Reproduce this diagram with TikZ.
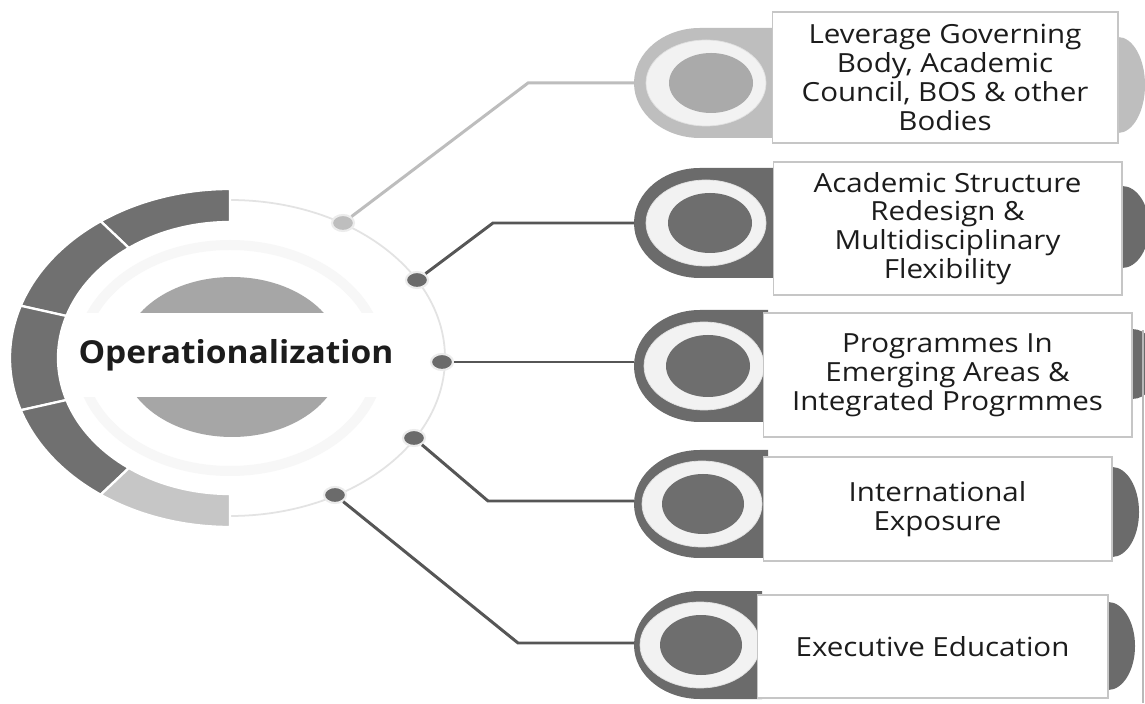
\documentclass[tikz,border=0pt]{standalone}
\usepackage{fontspec}
\setmainfont{Open Sans}
\newfontfamily\itemfont{Open Sans}[FakeStretch=1.12]
\newfontfamily\hubfont{Open Sans}[FakeStretch=1.06]
\usetikzlibrary{shapes.geometric}
\definecolor{segdark}{HTML}{707070}
\definecolor{segpale}{HTML}{C6C6C6}
\definecolor{hubdisk}{HTML}{A6A6A6}
\definecolor{cappale}{HTML}{BEBEBE}
\definecolor{diskpale}{HTML}{AAAAAA}
\definecolor{capdark}{HTML}{6B6B6B}
\definecolor{diskdark}{HTML}{6E6E6E}
\definecolor{ringwhite}{HTML}{F2F2F2}
\definecolor{linkpale}{HTML}{BDBDBD}
\definecolor{linkdark}{HTML}{565656}
\definecolor{ink}{HTML}{1C1C1C}
\begin{document}
\begin{tikzpicture}[x=0.02cm,y=0.02cm,
		segment/.style={draw=white,line width=1.3pt},
		dotpale/.style={ellipse,fill=cappale,draw=gray!15,line width=1.2pt,minimum width=0.44cm,minimum height=0.32cm,inner sep=0pt},
		dotdark/.style={ellipse,fill=capdark,draw=gray!15,line width=1.2pt,minimum width=0.44cm,minimum height=0.32cm,inner sep=0pt},
		pale/.style={draw=linkpale,line width=1.7pt},
		dark/.style={draw=linkdark,line width=1.7pt},
		itembox/.style={rectangle,fill=white,draw=gray!45,line width=0.6pt,align=center,inner sep=0pt,text=ink,font=\itemfont\fontsize{15}{16.4}\selectfont}]
	\useasboundingbox (0,0) rectangle (1145,703);
	\fill[white] (0,0) rectangle (1145,703);
	% hub
	\draw[gray!6,line width=0.2cm] (230,345) ellipse[x radius=150,y radius=113];
	\draw[gray!22,line width=1pt] (230,503) arc[start angle=90,end angle=-90,x radius=215,y radius=158];
	\fill[hubdisk] (232,346) ellipse[x radius=110,y radius=80];
	\fill[white] (58,306) rectangle (425,390);
	\begin{scope}[shift={(230,345)}]
		\filldraw[fill=segdark,segment] (90:220 and 169) arc[start angle=90,end angle=126,x radius=220,y radius=169] -- (126:172 and 136) arc[start angle=126,end angle=90,x radius=172,y radius=136] -- cycle;
		\filldraw[fill=segdark,segment] (126:220 and 169) arc[start angle=126,end angle=162,x radius=220,y radius=169] -- (162:172 and 136) arc[start angle=162,end angle=126,x radius=172,y radius=136] -- cycle;
		\filldraw[fill=segdark,segment] (162:220 and 169) arc[start angle=162,end angle=198,x radius=220,y radius=169] -- (198:172 and 136) arc[start angle=198,end angle=162,x radius=172,y radius=136] -- cycle;
		\filldraw[fill=segdark,segment] (198:220 and 169) arc[start angle=198,end angle=234,x radius=220,y radius=169] -- (234:172 and 136) arc[start angle=234,end angle=198,x radius=172,y radius=136] -- cycle;
		\filldraw[fill=segpale,segment] (234:220 and 169) arc[start angle=234,end angle=270,x radius=220,y radius=169] -- (270:172 and 136) arc[start angle=270,end angle=234,x radius=172,y radius=136] -- cycle;
	\end{scope}
	\node[text=ink,font=\hubfont\fontsize{18}{20}\selectfont\bfseries] (hub) at (236,348) {Operationalization};
	\node[dotpale] (dot1) at (343,480) {};
	\node[dotdark] (dot2) at (417,423) {};
	\node[dotdark] (dot3) at (442,341) {};
	\node[dotdark] (dot4) at (414,265) {};
	\node[dotdark] (dot5) at (335,208) {};
	% items
	\fill[cappale] (1118,618) ellipse[x radius=27,y radius=48];
	\fill[capdark] (1122,476) ellipse[x radius=27,y radius=41];
	\fill[capdark] (1132,339) ellipse[x radius=27,y radius=35];
	\fill[capdark] (1112,191) ellipse[x radius=27,y radius=45];
	\fill[capdark] (1108,57) ellipse[x radius=27,y radius=44];
	\fill[cappale] (777,675) -- (700,675) arc[start angle=90,end angle=270,x radius=66,y radius=55] -- (777,565) -- cycle;
	\fill[capdark] (778,535) -- (700,535) arc[start angle=90,end angle=270,x radius=66,y radius=55] -- (778,425) -- cycle;
	\fill[capdark] (768,393) -- (700,393) arc[start angle=90,end angle=270,x radius=66,y radius=56] -- (768,281) -- cycle;
	\fill[capdark] (768,253) -- (700,253) arc[start angle=90,end angle=270,x radius=66,y radius=54] -- (768,145) -- cycle;
	\fill[capdark] (762,112) -- (700,112) arc[start angle=90,end angle=270,x radius=66,y radius=54] -- (762,4) -- cycle;
	\coordinate (cap1) at (634,620);
	\coordinate (cap2) at (634,480);
	\coordinate (cap3) at (634,341);
	\coordinate (cap4) at (634,202);
	\coordinate (cap5) at (634,60);
	\filldraw[fill=ringwhite,draw=gray!25] (706,620) ellipse[x radius=60,y radius=43];
	\filldraw[fill=ringwhite,draw=gray!25] (706,480) ellipse[x radius=60,y radius=43];
	\filldraw[fill=ringwhite,draw=gray!25] (704,337) ellipse[x radius=60,y radius=44];
	\filldraw[fill=ringwhite,draw=gray!25] (702,199) ellipse[x radius=60,y radius=43];
	\filldraw[fill=ringwhite,draw=gray!25] (700,58) ellipse[x radius=60,y radius=43];
	\fill[diskpale] (711,620) ellipse[x radius=42,y radius=30];
	\fill[diskdark] (710,480) ellipse[x radius=42,y radius=30];
	\fill[diskdark] (708,337) ellipse[x radius=42,y radius=31];
	\fill[diskdark] (703,199) ellipse[x radius=41,y radius=30];
	\fill[diskdark] (701,58) ellipse[x radius=41,y radius=30];
	\node[itembox,minimum width=6.92cm,minimum height=2.62cm] (box1) at (945,625.5) {Leverage Governing\\Body, Academic\\Council, BOS \& other\\Bodies};
	\node[itembox,minimum width=6.98cm,minimum height=2.66cm] (box2) at (947.5,474.5) {Academic Structure\\Redesign \&\\Multidisciplinary\\Flexibility};
	\node[itembox,minimum width=7.38cm,minimum height=2.48cm] (box3) at (947.5,328) {Programmes In\\Emerging Areas \&\\Integrated Progrmmes};
	\node[itembox,minimum width=6.98cm,minimum height=2.08cm] (box4) at (937.5,194) {International\\Exposure};
	\node[itembox,minimum width=7.02cm,minimum height=2.06cm] (box5) at (932.5,56.5) {Executive Education};
	% links
	\coordinate (bend1) at (528,620);
	\coordinate (bend2) at (493,480);
	\coordinate (bend4) at (488,202);
	\coordinate (bend5) at (518,60);
	\draw[pale] (dot1) -- (bend1) -- (cap1);
	\draw[dark] (dot2) -- (bend2) -- (cap2);
	\draw[dark] (dot3) -- (cap3);
	\draw[dark] (dot4) -- (bend4) -- (cap4);
	\draw[dark] (dot5) -- (bend5) -- (cap5);
	\draw[gray!55,line width=0.6pt] (1143,0) -- (1143,373);
\end{tikzpicture}
\end{document}
